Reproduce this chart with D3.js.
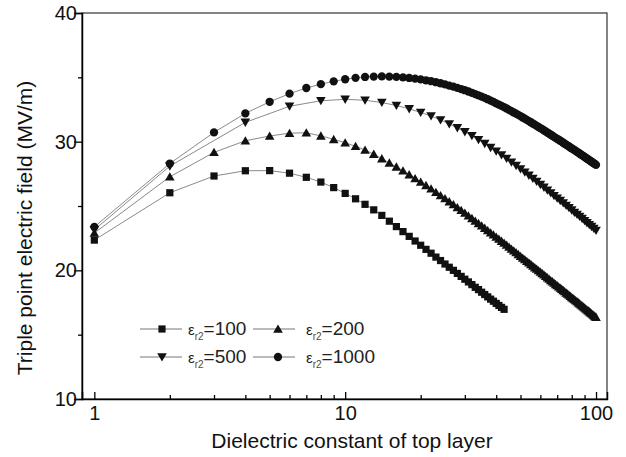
<!DOCTYPE html>
<html><head><meta charset="utf-8">
<script src="https://cdn.jsdelivr.net/npm/d3@7"></script>
<style>body{margin:0;background:#fff}svg{display:block}text{font-family:"Liberation Sans",Arial,sans-serif}</style>
</head><body><svg id="c" width="626" height="457"></svg>
<script>
// ---- data ----
const seriesNames = ["100", "200", "500", "1000"];
const xTickMajor = [1, 10, 100];
const yTicks = [10, 20, 30, 40];
const xLabel = "Dielectric constant of top layer";
const yLabel = "Triple point electric field (MV/m)";

// eps_r2 = 100, x = 1..43
const x100 = d3.range(1, 44);
const eps100 = [22.35,26.03,27.33,27.74,27.75,27.55,27.23,26.86,26.43,25.98,
25.56,25.13,24.70,24.27,23.82,23.40,23.01,22.64,22.28,21.95,
21.63,21.33,21.03,20.76,20.49,20.24,20.00,19.76,19.53,19.31,
19.10,18.89,18.68,18.50,18.30,18.12,17.94,17.76,17.60,17.43,
17.27,17.12,16.97];

// eps_r2 = 200, x = 1..100
const x200 = d3.range(1, 101);
const eps200 = [22.90,27.27,29.17,30.07,30.44,30.66,30.69,30.45,30.18,29.92,
29.64,29.35,29.03,28.68,28.35,28.04,27.74,27.44,27.14,26.87,
26.60,26.34,26.07,25.82,25.58,25.34,25.11,24.88,24.67,24.45,
24.24,24.04,23.83,23.65,23.46,23.28,23.10,22.92,22.76,22.59,
22.43,22.27,22.12,21.97,21.81,21.66,21.52,21.38,21.24,21.10,
20.96,20.84,20.71,20.59,20.46,20.34,20.21,20.10,19.98,19.87,
19.76,19.65,19.54,19.43,19.32,19.21,19.12,19.01,18.91,18.82,
18.72,18.63,18.54,18.44,18.35,18.25,18.17,18.08,17.98,17.90,
17.82,17.73,17.65,17.57,17.49,17.41,17.32,17.25,17.17,17.09,
17.01,16.93,16.87,16.79,16.71,16.65,16.57,16.50,16.42,16.36];

// eps_r2 = 500, x = 1, 2, 4, ..., 100
const x500 = [1,2,4,6,8,10,12,14,16,18,20,22,24,26,28,30,32,34,36,38,40,
42,44,46,48,50,52,54,56,58,60,62,64,66,68,70,72,74,76,78,80,
82,84,86,88,90,92,94,96,98,100];
const eps500 = [23.15,28.10,31.50,32.75,33.18,33.29,33.22,33.04,32.81,32.55,32.27,
31.99,31.69,31.38,31.07,30.76,30.46,30.15,29.85,29.54,29.25,
28.97,28.69,28.40,28.14,27.88,27.62,27.38,27.14,26.90,26.66,
26.45,26.23,26.01,25.80,25.61,25.42,25.23,25.04,24.86,24.68,
24.50,24.34,24.18,24.02,23.86,23.69,23.54,23.40,23.25,23.10];

// eps_r2 = 1000, x = 1..100
const x1000 = d3.range(1, 101);
const eps1000 = [23.38,28.30,30.72,32.20,33.10,33.73,34.17,34.47,34.69,34.85,
34.96,35.03,35.06,35.07,35.06,35.04,35.00,34.95,34.90,34.84,
34.77,34.70,34.62,34.54,34.45,34.36,34.28,34.18,34.09,34.00,
33.90,33.80,33.70,33.60,33.50,33.40,33.30,33.19,33.09,32.98,
32.88,32.78,32.68,32.58,32.47,32.37,32.27,32.18,32.08,31.98,
31.88,31.79,31.69,31.60,31.51,31.41,31.32,31.23,31.14,31.05,
30.97,30.88,30.80,30.71,30.62,30.54,30.46,30.37,30.30,30.22,
30.15,30.07,30.00,29.92,29.84,29.77,29.70,29.63,29.55,29.48,
29.42,29.34,29.28,29.21,29.15,29.08,29.00,28.95,28.88,28.82,
28.75,28.69,28.63,28.57,28.50,28.44,28.38,28.32,28.26,28.20];

// ---- drawing ----
const svg = d3.select("#c");
const L = 82, R = 607, T = 13, B = 399;
const x = d3.scaleLog().domain([0.893, 110.6]).range([L, R]);
const y = d3.scaleLinear().domain([10, 40]).range([B, T]);

// frame
svg.append("rect").attr("x", L).attr("y", T).attr("width", R - L).attr("height", B - T)
  .attr("fill", "none").attr("stroke", "#333").attr("stroke-width", 1.2);

// x axis minor ticks (inward)
const xMinor = [2,3,4,5,6,7,8,9,20,30,40,50,60,70,80,90];
svg.append("g").attr("transform", `translate(0,${B})`)
  .call(d3.axisBottom(x).tickValues(xMinor).tickSize(-4).tickFormat(""))
  .call(g => g.select(".domain").remove())
  .call(g => g.selectAll("line").attr("stroke", "#000").attr("stroke-width", 1.3));
// x axis major
svg.append("g").attr("transform", `translate(0,${B})`)
  .call(d3.axisBottom(x).tickValues(xTickMajor).tickSize(-7).tickPadding(7).tickFormat(d3.format("d")))
  .call(g => g.select(".domain").attr("stroke", "#000").attr("stroke-width", 1.5))
  .call(g => g.selectAll("line").attr("stroke", "#000").attr("stroke-width", 1.3))
  .call(g => g.selectAll("text").attr("font-size", 20).attr("fill", "#111")
      .attr("font-family", '"Liberation Sans", Arial, sans-serif'));

// y axis minor
svg.append("g").attr("transform", `translate(${L},0)`)
  .call(d3.axisLeft(y).tickValues([15, 25, 35]).tickSize(4).tickFormat(""))
  .call(g => g.select(".domain").remove())
  .call(g => g.selectAll("line").attr("stroke", "#000").attr("stroke-width", 1.3));
// y axis major
svg.append("g").attr("transform", `translate(${L},0)`)
  .call(d3.axisLeft(y).tickValues(yTicks).tickSize(8).tickPadding(-3))
  .call(g => g.select(".domain").attr("stroke", "#000").attr("stroke-width", 1.5))
  .call(g => g.selectAll("line").attr("stroke", "#000").attr("stroke-width", 1.3))
  .call(g => g.selectAll("text").attr("font-size", 20).attr("fill", "#111")
      .attr("font-family", '"Liberation Sans", Arial, sans-serif'));

// titles
svg.append("text").attr("x", 352).attr("y", 448).attr("text-anchor", "middle")
  .attr("font-size", 21).attr("fill", "#111").text(xLabel);
svg.append("text").attr("transform", "translate(32,228) rotate(-90)").attr("text-anchor", "middle")
  .attr("font-size", 21).attr("fill", "#111").text(yLabel);

// series
const sym = {
  sq: d3.symbol().type(d3.symbolSquare).size(52)(),
  up: d3.symbol().type(d3.symbolTriangle).size(40)(),
  dn: d3.symbol().type(d3.symbolTriangle).size(40)(),
  ci: d3.symbol().type(d3.symbolCircle).size(54)()
};
const series = [
  {name: seriesNames[0], xs: x100, ys: eps100, s: "sq", rot: 0},
  {name: seriesNames[1], xs: x200, ys: eps200, s: "up", rot: 0},
  {name: seriesNames[2], xs: x500, ys: eps500, s: "dn", rot: 180},
  {name: seriesNames[3], xs: x1000, ys: eps1000, s: "ci", rot: 0}
];
const line = d3.line().x(d => x(d[0])).y(d => y(d[1]));
series.forEach(sr => {
  const pts = sr.xs.map((v, i) => [v, sr.ys[i]]);
  const g = svg.append("g");
  g.append("path").attr("d", line(pts)).attr("fill", "none")
    .attr("stroke", "#8a8a8a").attr("stroke-width", 1);
  g.selectAll("path.m").data(pts).join("path").attr("class", "m")
    .attr("d", sym[sr.s]).attr("fill", "#111")
    .attr("transform", d => `translate(${x(d[0])},${y(d[1]) + (sr.s === "up" ? 1 : sr.s === "dn" ? -1 : 0)}) rotate(${sr.rot})`);
});

// legend
const legPos = [[140, 329], [253, 329], [140, 357], [253, 357]];
series.forEach((sr, i) => {
  const [lx, ly] = legPos[i];
  const g = svg.append("g").attr("transform", `translate(${lx},${ly})`);
  g.append("line").attr("x1", 0).attr("x2", 42).attr("y1", 0).attr("y2", 0)
    .attr("stroke", "#777").attr("stroke-width", 1);
  g.append("path").attr("d", sym[sr.s]).attr("fill", "#111")
    .attr("transform", `translate(${i % 2 === 0 ? 22 : 25},${sr.s === "up" ? 1 : sr.s === "dn" ? -1 : 0}) rotate(${sr.rot})`);
  const t = g.append("text").attr("x", i % 2 === 0 ? 48 : 53).attr("y", 6).attr("font-size", 19).attr("fill", "#222");
  t.append("tspan").text("ε").attr("font-size", 15);
  t.append("tspan").text("r2").attr("font-size", 10).attr("dy", 5).attr("fill", "#5a4636");
  t.append("tspan").text("=" + sr.name).attr("dy", -5);
});
</script></body></html>
